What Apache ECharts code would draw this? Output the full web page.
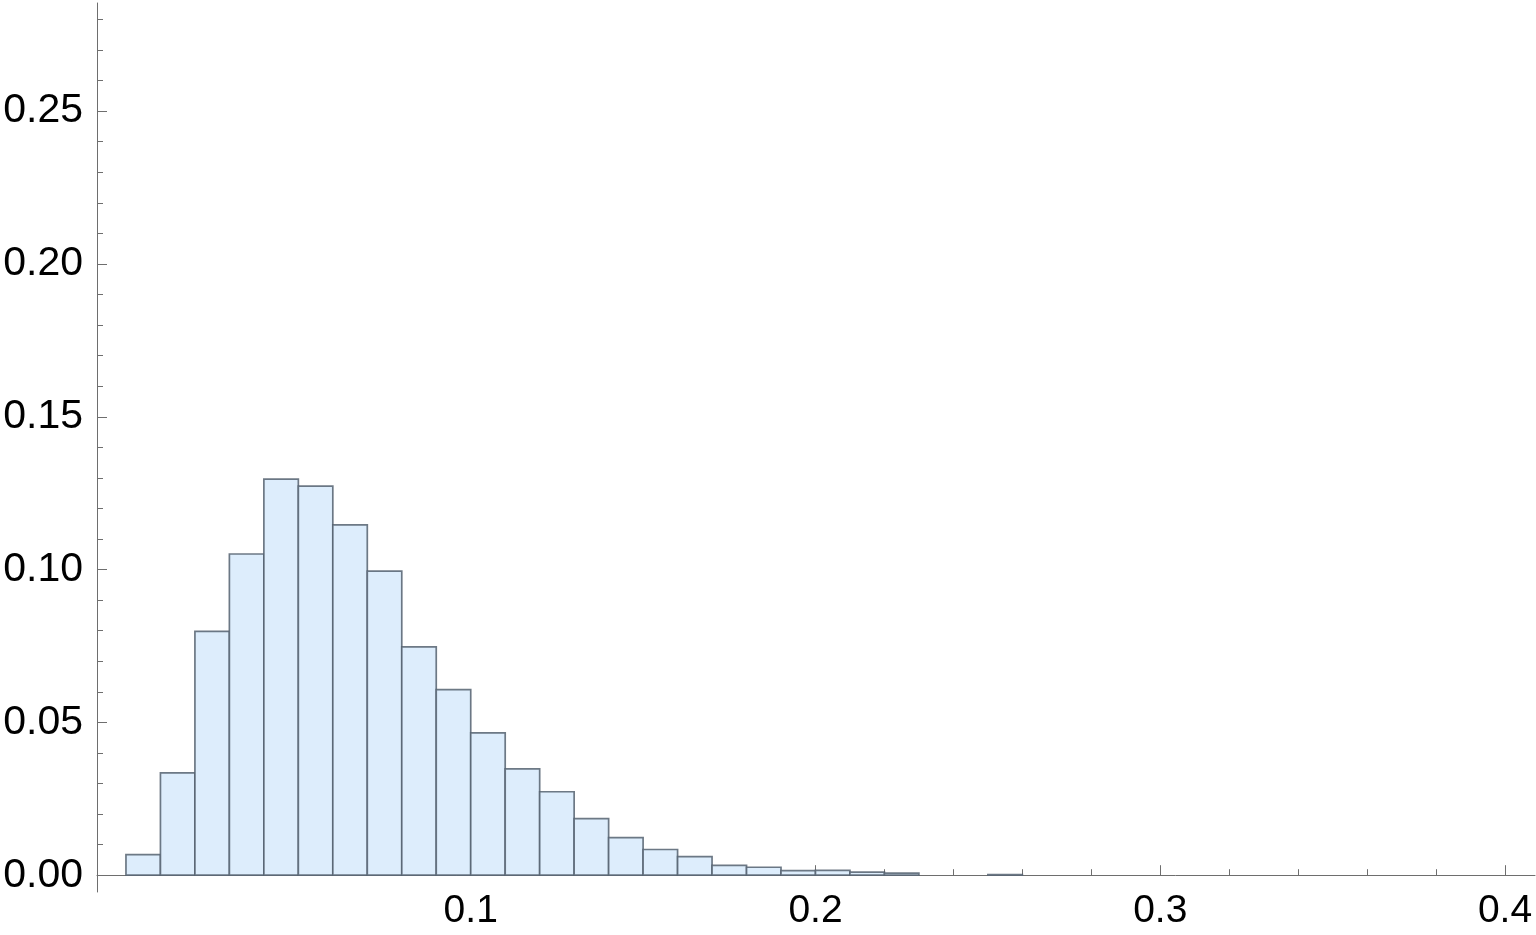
<!DOCTYPE html>
<html>
<head>
<meta charset="utf-8">
<script src="https://cdn.jsdelivr.net/npm/echarts@6/dist/echarts.min.js"></script>
<style>
html,body{margin:0;padding:0;background:#fff;}
#chart{width:1536px;height:935px;}
</style>
</head>
<body>
<div id="chart"></div>
<script>
// Histogram bins (left edge, right edge) and probability per bin
const binLo = [0.00,0.01,0.02,0.03,0.04,0.05,0.06,0.07,0.08,0.09,0.10,0.11,0.12,0.13,0.14,0.15,0.16,0.17,0.18,0.19,0.20,0.21,0.22,0.25];
const binHi = [0.01,0.02,0.03,0.04,0.05,0.06,0.07,0.08,0.09,0.10,0.11,0.12,0.13,0.14,0.15,0.16,0.17,0.18,0.19,0.20,0.21,0.22,0.23,0.26];
const probs = [0.0067,0.0335,0.0798,0.1051,0.1296,0.1273,0.1146,0.0995,0.0747,0.0607,0.0466,0.0348,0.0273,0.0185,0.0123,0.0084,0.0061,0.0032,0.0026,0.0015,0.0016,0.0010,0.0007,0.0002];

// Tick values
const xMajorTicks = [0.1, 0.2, 0.3, 0.4];
const xMinorTicks = [0.02,0.04,0.06,0.08,0.12,0.14,0.16,0.18,0.22,0.24,0.26,0.28,0.32,0.34,0.36,0.38];
const yMajorTicks = [0.00, 0.05, 0.10, 0.15, 0.20, 0.25];
const yMinorTicks = [0.01,0.02,0.03,0.04,0.06,0.07,0.08,0.09,0.11,0.12,0.13,0.14,0.16,0.17,0.18,0.19,0.21,0.22,0.23,0.24,0.26,0.27,0.28];

const X_MIN = -0.0084, X_MAX = 0.4087;
const Y_MIN = -0.0055, Y_MAX = 0.2854;

const axisColor = '#6e6e6e';
const fontFamily = '"Liberation Sans", Arial, sans-serif';

const chart = echarts.init(document.getElementById('chart'), null, {renderer: 'canvas'});
const data = binLo.map((lo, i) => [lo, binHi[i], probs[i]]);

chart.setOption({
  animation: false,
  backgroundColor: '#ffffff',
  grid: {left: 97, right: 1, top: 3, bottom: 43, containLabel: false, outerBoundsMode: 'none'},
  xAxis: [
    {
      type: 'value', min: X_MIN, max: X_MAX, position: 'bottom',
      axisLine: {show: true, onZero: true, onZeroAxisIndex: 0, lineStyle: {color: axisColor, width: 1}},
      axisTick: {show: true, inside: true, length: 10, customValues: xMajorTicks, lineStyle: {color: axisColor, width: 1}},
      axisLabel: {show: true, customValues: xMajorTicks, margin: 0, color: '#000', fontSize: 39, fontFamily: fontFamily,
                  formatter: v => v.toFixed(1)},
      splitLine: {show: false}
    },
    {
      type: 'value', min: X_MIN, max: X_MAX, position: 'bottom',
      axisLine: {show: false, onZero: true, onZeroAxisIndex: 0},
      axisTick: {show: true, inside: true, length: 6, customValues: xMinorTicks, lineStyle: {color: axisColor, width: 1}},
      axisLabel: {show: false},
      splitLine: {show: false}
    }
  ],
  yAxis: [
    {
      type: 'value', min: Y_MIN, max: Y_MAX, position: 'left',
      axisLine: {show: true, onZero: false, lineStyle: {color: axisColor, width: 1}},
      axisTick: {show: true, inside: true, length: 10, customValues: yMajorTicks, lineStyle: {color: axisColor, width: 1}},
      axisLabel: {show: true, customValues: yMajorTicks, margin: 14, color: '#000', fontSize: 41, fontFamily: fontFamily,
                  formatter: v => v.toFixed(2)},
      splitLine: {show: false}
    },
    {
      type: 'value', min: Y_MIN, max: Y_MAX, position: 'left',
      axisLine: {show: false, onZero: false},
      axisTick: {show: true, inside: true, length: 6, customValues: yMinorTicks, lineStyle: {color: axisColor, width: 1}},
      axisLabel: {show: false},
      splitLine: {show: false}
    }
  ],
  series: [{
    type: 'custom',
    xAxisIndex: 0, yAxisIndex: 0,
    data: data,
    renderItem: function (params, api) {
      const lo = api.value(0), hi = api.value(1), h = api.value(2);
      const pTop = api.coord([lo, h]);
      const pBot = api.coord([hi, 0]);
      return {
        type: 'rect',
        shape: {x: pTop[0], y: pTop[1], width: pBot[0] - pTop[0], height: pBot[1] - pTop[1]},
        style: {fill: '#ddedfc', stroke: 'rgba(85,98,112,0.85)', lineWidth: 1.7}
      };
    }
  }]
});
</script>
</body>
</html>
